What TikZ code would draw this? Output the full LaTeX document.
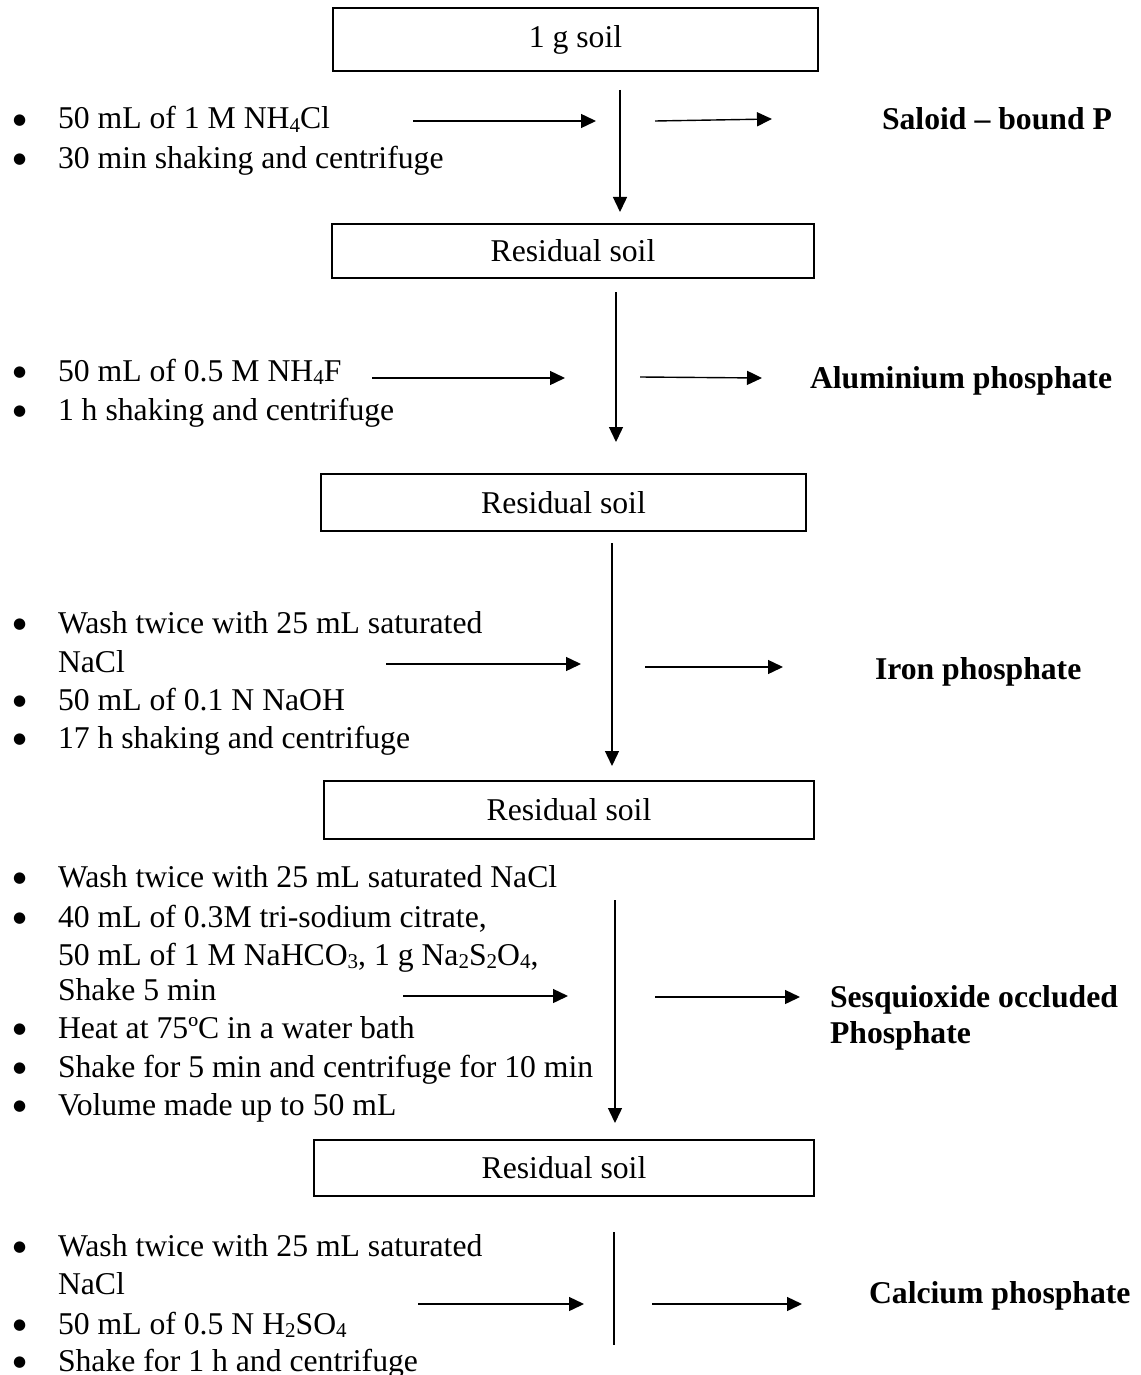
\documentclass[tikz,border=0pt]{standalone}
\usepackage{fontspec}
\setmainfont{Liberation Serif}
\newfontfamily\bulfont{DejaVu Sans}
\usetikzlibrary{arrows.meta}
\newcommand{\chsub}[1]{\raisebox{-0.1em}{\fontsize{21}{21}\selectfont #1}}
\newcommand{\bul}{\makebox[45pt][l]{\raisebox{4.5pt}{\bulfont\fontsize{15}{15}\selectfont ●}}}
\begin{document}
\begin{tikzpicture}[x=1pt,y=-1pt,
  every node/.style={inner sep=0pt, outer sep=0pt, font=\fontsize{31.7}{38}\selectfont},
  txt/.style={anchor=base west},
  lbl/.style={anchor=base west, font=\fontsize{31.7}{38}\selectfont\bfseries},
  box/.style={draw, line width=1.6pt},
  flow/.style={line width=1.4pt, -{Triangle[length=15pt,width=14pt]}},
  plainline/.style={line width=1.4pt}
]
\useasboundingbox (0,0) rectangle (1140,1375);

% boxes
\node[box, minimum width=485, minimum height=63] (b1) at (575.5,39.5) {1 g soil};
\node[box, minimum width=482, minimum height=54] (b2) at (573,251) {Residual soil};
\node[box, minimum width=485, minimum height=57] (b3) at (563.5,502.5) {Residual soil};
\node[box, minimum width=490, minimum height=58] (b4) at (569,810) {Residual soil};
\node[box, minimum width=500, minimum height=56] (b5) at (564,1168) {Residual soil};

% group 1
\node[txt] (g1a) at (13,129) {\bul 50 mL of 1 M NH\chsub{4}Cl};
\node[txt] (g1b) at (13,168) {\bul 30 min shaking and centrifuge};
% group 2
\node[txt] (g2a) at (13,381) {\bul 50 mL of 0.5 M NH\chsub{4}F};
\node[txt] (g2b) at (13,420) {\bul 1 h shaking and centrifuge};
% group 3
\node[txt] (g3a) at (13,633) {\bul Wash twice with 25 mL saturated};
\node[txt] (g3b) at (58,672) {NaCl};
\node[txt] (g3c) at (13,710) {\bul 50 mL of 0.1 N NaOH};
\node[txt] (g3d) at (13,748) {\bul 17 h shaking and centrifuge};
% group 4
\node[txt] (g4a) at (13,887) {\bul Wash twice with 25 mL saturated NaCl};
\node[txt] (g4b) at (13,927) {\bul 40 mL of 0.3M tri-sodium citrate,};
\node[txt] (g4c) at (58,965) {50 mL of 1 M NaHCO\chsub{3}, 1 g Na\chsub{2}S\chsub{2}O\chsub{4},};
\node[txt] (g4d) at (58,1000) {Shake 5 min};
\node[txt] (g4e) at (13,1038) {\bul Heat at 75ºC in a water bath};
\node[txt] (g4f) at (13,1077) {\bul Shake for 5 min and centrifuge for 10 min};
\node[txt] (g4g) at (13,1115) {\bul Volume made up to 50 mL};
% group 5
\node[txt] (g5a) at (13,1256) {\bul Wash twice with 25 mL saturated};
\node[txt] (g5b) at (58,1294) {NaCl};
\node[txt] (g5c) at (13,1334) {\bul 50 mL of 0.5 N H\chsub{2}SO\chsub{4}};
\node[txt] (g5d) at (13,1371) {\bul Shake for 1 h and centrifuge};

% result labels
\node[lbl] (r1) at (882,130) {Saloid – bound P};
\node[lbl] (r2) at (810,388) {Aluminium phosphate};
\node[lbl] (r3) at (875,679) {Iron phosphate};
\node[lbl] (r4a) at (830,1007) {Sesquioxide occluded};
\node[lbl] (r4b) at (830,1043) {Phosphate};
\node[lbl] (r5) at (869,1303) {Calcium phosphate};

% arrow end points
\coordinate (v1s) at (620,90);   \coordinate (v1e) at (620,212);
\coordinate (v2s) at (616,292);  \coordinate (v2e) at (616,442);
\coordinate (v3s) at (612,543);  \coordinate (v3e) at (612,766);
\coordinate (v4s) at (615,900);  \coordinate (v4e) at (615,1123);
\coordinate (v5s) at (614,1232); \coordinate (v5e) at (614,1345);

\coordinate (l1s) at (413,121);  \coordinate (l1e) at (596,121);
\coordinate (q1s) at (655,121);  \coordinate (q1e) at (772,119);
\coordinate (l2s) at (372,378);  \coordinate (l2e) at (565,378);
\coordinate (q2s) at (640,377);  \coordinate (q2e) at (762,378);
\coordinate (l3s) at (386,664);  \coordinate (l3e) at (581,664);
\coordinate (q3s) at (645,667);  \coordinate (q3e) at (783,667);
\coordinate (l4s) at (403,996);  \coordinate (l4e) at (568,996);
\coordinate (q4s) at (655,997);  \coordinate (q4e) at (800,997);
\coordinate (l5s) at (418,1304); \coordinate (l5e) at (584,1304);
\coordinate (q5s) at (652,1304); \coordinate (q5e) at (802,1304);

% connectors
\draw[flow] (v1s) -- (v1e);
\draw[flow] (v2s) -- (v2e);
\draw[flow] (v3s) -- (v3e);
\draw[flow] (v4s) -- (v4e);
\draw[plainline] (v5s) -- (v5e);

\draw[flow] (l1s) -- (l1e);  \draw[flow] (q1s) -- (q1e);
\draw[flow] (l2s) -- (l2e);  \draw[flow] (q2s) -- (q2e);
\draw[flow] (l3s) -- (l3e);  \draw[flow] (q3s) -- (q3e);
\draw[flow] (l4s) -- (l4e);  \draw[flow] (q4s) -- (q4e);
\draw[flow] (l5s) -- (l5e);  \draw[flow] (q5s) -- (q5e);
\end{tikzpicture}
\end{document}
